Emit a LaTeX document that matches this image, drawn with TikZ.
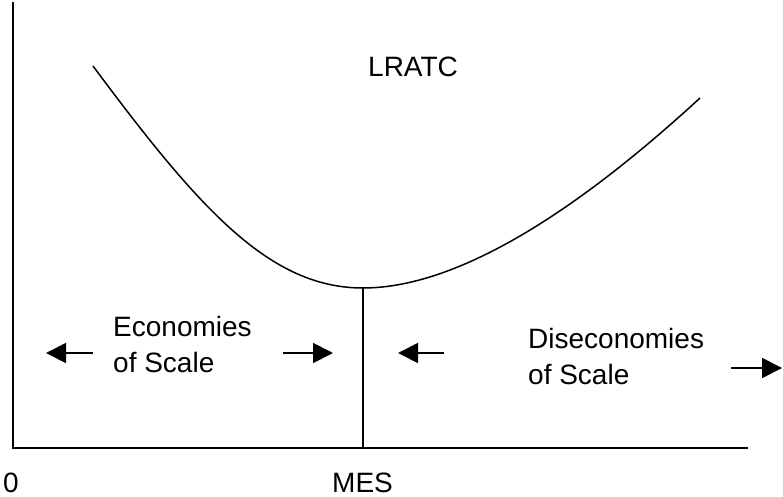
\documentclass[tikz,border=0pt]{standalone}
\usepackage{fontspec}
\setmainfont{Liberation Sans}
\usetikzlibrary{arrows.meta}

\begin{document}
\begin{tikzpicture}[x=1pt,y=-1pt,
  every node/.style={font=\fontsize{28}{36}\selectfont,inner sep=0pt,align=left},
  lbl/.style={anchor=base west},
  axis/.style={line width=1.8pt},
  lratc/.style={line width=1.5pt},
  push/.style={-{Triangle[length=20pt,width=20pt]},line width=1.8pt}
]
\useasboundingbox (0,0) rectangle (783,497);

% axes
\coordinate (ytop) at (13,2);
\coordinate (origin) at (13,448);
\coordinate (xend) at (748,448);
\draw[axis] (ytop) -- (origin) -- (xend);

% long run average total cost
\coordinate (start) at (93,66);
\coordinate (mes) at (363,288);
\coordinate (finish) at (700,98);
\coordinate (mesbase) at (363,448);
\draw[lratc] (start) .. controls (200,210) and (270,288) .. (mes)
  .. controls (470,288) and (600,190) .. (finish);
\draw[axis] (mes) -- (mesbase);

\node[lbl] (curvename) at (368,77) {LRATC};
\node[lbl] (zero) at (3,492) {0};
\node[lbl] (meslabel) at (332,492) {MES};
% base anchor sits on the last line
\node[lbl] (eos) at (113,372) {Economies\\of Scale};
\node[lbl] (dis) at (528,384) {Diseconomies\\of Scale};

% arrows
\coordinate (a1) at (93,353);  \coordinate (b1) at (46,353);
\coordinate (a2) at (283,353); \coordinate (b2) at (333,353);
\coordinate (a3) at (444,353); \coordinate (b3) at (398,353);
\coordinate (a4) at (731,368); \coordinate (b4) at (782,368);
\draw[push] (a1) -- (b1);
\draw[push] (a2) -- (b2);
\draw[push] (a3) -- (b3);
\draw[push] (a4) -- (b4);
\end{tikzpicture}
\end{document}
